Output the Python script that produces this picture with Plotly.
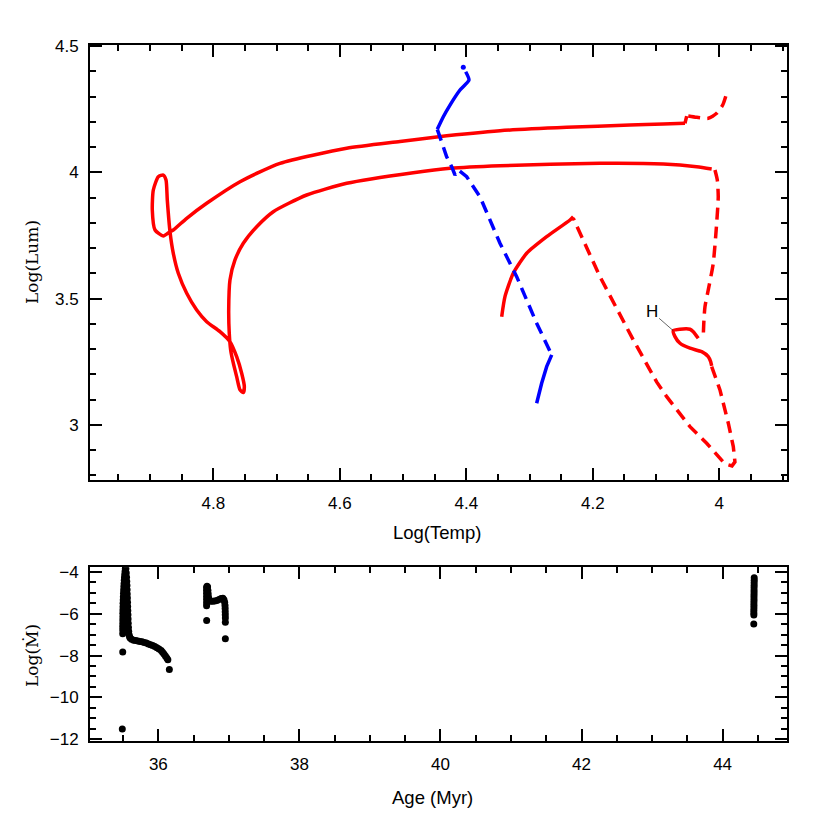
import plotly.graph_objects as go
from plotly.subplots import make_subplots

# ---------------- HR diagram data (Log Temp, Log Lum) ----------------
# main solid red track (upper branch -> alpha loop -> lower loop -> lower branch)
trackA_T = [4.0516, 4.0543, 4.0886, 4.1413, 4.2413, 4.3468, 4.4469, 4.5049, 4.5892,
            4.6946, 4.7578, 4.8105, 4.8421, 4.8633, 4.8685, 4.8791, 4.8922,
            4.8965, 4.8949, 4.8870, 4.8791, 4.8748, 4.8728, 4.8685, 4.8633, 4.8554,
            4.8421, 4.8263, 4.8105, 4.7895, 4.7737, 4.7631, 4.7552, 4.7510, 4.7526,
            4.7578, 4.7631, 4.7684, 4.7726, 4.7748, 4.7757, 4.7737, 4.7658, 4.7526,
            4.7314, 4.7052, 4.6524, 4.5892, 4.4839, 4.4258, 4.3468, 4.1887, 4.0886,
            4.0358, 4.0121]
trackA_L = [4.2228, 4.1939, 4.1911, 4.1872, 4.1781, 4.1646, 4.1400, 4.1220, 4.0950,
            4.0356, 3.9628, 3.8773, 3.8180, 3.7717, 3.7650, 3.7480, 3.7717,
            3.8508, 3.9300, 3.9826, 3.9893, 3.9695, 3.8904, 3.7650, 3.6795, 3.6003,
            3.5212, 3.4551, 3.4088, 3.3693, 3.3297, 3.2703, 3.2046, 3.1516, 3.1279,
            3.1386, 3.1912, 3.2442, 3.2968, 3.3629, 3.4551, 3.5738, 3.6530, 3.7191,
            3.7847, 3.8441, 3.9102, 3.9565, 3.9984, 4.0158, 4.0261, 4.0356, 4.0328,
            4.0222, 4.0131]

# dashed red continuation at the top right
dashA_T = [4.0491, 4.0358, 4.0175, 4.0042, 3.9947, 3.9884]
dashA_L = [4.2228, 4.2176, 4.2137, 4.2335, 4.2663, 4.3126]

# dashed red drop from the lower branch end
dashB_T = [4.0069, 4.0032, 4.0017, 4.0042, 4.0096, 4.0175, 4.0227, 4.0243, 4.0254]
dashB_L = [4.0091, 3.9695, 3.9034, 3.7982, 3.6399, 3.5343, 3.4682, 3.4155, 3.3495]

# solid red "H" segment
hseg_T = [4.0333, 4.0412, 4.0464, 4.0622, 4.0728, 4.0701, 4.0622, 4.0464, 4.0279,
          4.0175, 4.0137, 4.0121]
hseg_L = [3.3431, 3.3693, 3.3788, 3.3788, 3.3732, 3.3495, 3.3233, 3.3036, 3.2901,
          3.2703, 3.2505, 3.2335]

# dashed red loop to the bottom and back up-left
dashC_T = [4.0121, 3.9990, 3.9858, 3.9779, 3.9753, 3.9800, 3.9911, 4.0042, 4.0200,
           4.0464, 4.0622, 4.0832, 4.0991, 4.1254, 4.1360, 4.1887, 4.2309]
dashC_L = [3.2308, 3.1386, 3.0068, 2.9142, 2.8537, 2.8378, 2.8458, 2.8814, 2.9276,
           2.9933, 3.0436, 3.1120, 3.1702, 3.2889, 3.3364, 3.5869, 3.8180]

# solid red short track
trackD_T = [4.2309, 4.2361, 4.2730, 4.3046, 4.3258, 4.3389, 4.3441]
trackD_L = [3.8243, 3.8112, 3.7452, 3.6795, 3.6003, 3.5078, 3.4286]

# blue track
blueTop_T = [4.4010, 4.3958, 4.4100, 4.4258, 4.4364, 4.4459]
blueTop_L = [4.3981, 4.3652, 4.3257, 4.2663, 4.2200, 4.1702]
blueDot_T = [4.4048]
blueDot_L = [4.4155]
blueDash_T = [4.4459, 4.4311, 4.4232, 4.4179, 4.4127, 4.3994, 4.3784, 4.3468, 4.3204,
              4.2888, 4.2650]
blueDash_L = [4.1702, 4.0617, 4.0222, 3.9893, 4.0091, 3.9826, 3.9034, 3.7191, 3.5869,
              3.4025, 3.2771]
blueBot_T = [4.2650, 4.2730, 4.2809, 4.2888]
blueBot_L = [3.2771, 3.2308, 3.1651, 3.0859]

# annotation "H"
h_label_T, h_label_L = 4.107, 3.448
h_point_T, h_point_L = 4.0728, 3.3732

# ---------------- mass-loss rate data ----------------
age_g1 = ([35.489, 35.495] +
          [35.495, 35.495, 35.495, 35.496, 35.496, 35.497, 35.497, 35.498, 35.499, 35.500,
           35.502, 35.504, 35.506, 35.508, 35.511, 35.514, 35.517, 35.520, 35.524, 35.528,
           35.532] +
          [35.540, 35.545, 35.549, 35.552, 35.555, 35.557, 35.559, 35.561, 35.563, 35.565,
           35.567, 35.569, 35.571, 35.573, 35.576, 35.580, 35.585, 35.592, 35.600] +
          [35.62, 35.65, 35.68, 35.71, 35.74, 35.77, 35.80, 35.83, 35.86, 35.89, 35.92,
           35.95, 35.98, 36.01, 36.04, 36.06, 36.08, 36.10, 36.12, 36.135, 36.156])
mdot_g1 = ([-11.51, -7.83] +
           [-6.95, -6.78, -6.62, -6.46, -6.30, -6.14, -5.98, -5.82, -5.66, -5.50,
            -5.34, -5.18, -5.02, -4.86, -4.70, -4.55, -4.40, -4.26, -4.12, -3.98,
            -3.85] +
           [-3.85, -4.05, -4.25, -4.45, -4.65, -4.85, -5.05, -5.25, -5.45, -5.65,
            -5.85, -6.05, -6.25, -6.45, -6.65, -6.85, -7.00, -7.10, -7.16] +
           [-7.22, -7.26, -7.28, -7.30, -7.32, -7.34, -7.37, -7.40, -7.44, -7.48, -7.52,
            -7.57, -7.63, -7.69, -7.76, -7.84, -7.92, -8.02, -8.12, -8.20, -8.66])

age_g2 = [36.685, 36.684, 36.684, 36.684, 36.684, 36.684, 36.684, 36.684, 36.690,
          36.698, 36.703, 36.707, 36.712, 36.720, 36.740, 36.770, 36.800, 36.830,
          36.860, 36.890, 36.915, 36.930, 36.940, 36.945, 36.947, 36.948, 36.949,
          36.950, 36.950, 36.950]
mdot_g2 = [-6.32, -5.62, -5.47, -5.32, -5.17, -5.02, -4.87, -4.74, -4.68,
           -4.72, -4.88, -5.05, -5.22, -5.34, -5.40, -5.40, -5.39, -5.37,
           -5.32, -5.27, -5.26, -5.33, -5.45, -5.60, -5.75, -5.90, -6.05,
           -6.20, -6.40, -7.20]

age_g3 = [44.448, 44.448, 44.447, 44.447, 44.446, 44.446, 44.446, 44.445, 44.445,
          44.445, 44.444, 44.444, 44.444, 44.443, 44.443, 44.443, 44.442]
mdot_g3 = [-4.28, -4.40, -4.52, -4.64, -4.76, -4.88, -5.00, -5.12, -5.24,
           -5.36, -5.48, -5.60, -5.72, -5.84, -5.96, -6.06, -6.49]

RED = "#ff0000"
BLUE = "#0000ff"
LW = 3.5
DASH = "12px,7px"

fig = make_subplots(rows=2, cols=1)

def line(x, y, color, dash="solid", shape="spline"):
    fig.add_trace(go.Scatter(x=x, y=y, mode="lines",
                             line=dict(color=color, width=LW, dash=dash, shape=shape,
                                       smoothing=0.6),
                             showlegend=False, hoverinfo="skip"), row=1, col=1)

line(trackA_T[:2], trackA_L[:2], RED, shape="linear")
line(trackA_T[1:], trackA_L[1:], RED)
line(dashA_T, dashA_L, RED, DASH)
line(dashB_T, dashB_L, RED, DASH)
line(hseg_T, hseg_L, RED)
line(dashC_T, dashC_L, RED, DASH, shape="linear")
line(trackD_T, trackD_L, RED)
line(blueTop_T, blueTop_L, BLUE)
line(blueDash_T, blueDash_L, BLUE, DASH, shape="linear")
line(blueBot_T, blueBot_L, BLUE, shape="linear")
fig.add_trace(go.Scatter(x=blueDot_T, y=blueDot_L, mode="markers",
                         marker=dict(color=BLUE, size=5), showlegend=False,
                         hoverinfo="skip"), row=1, col=1)

for ax, ay in ((age_g1, mdot_g1), (age_g2, mdot_g2), (age_g3, mdot_g3)):
    fig.add_trace(go.Scatter(x=ax, y=ay, mode="markers",
                             marker=dict(color="black", size=7, line=dict(width=0)),
                             showlegend=False, hoverinfo="skip"), row=2, col=1)

TICKFONT = dict(family="Liberation Sans, Arial, sans-serif", size=17, color="black")
axis_common = dict(showline=True, linecolor="black", linewidth=2, mirror="ticks",
                   ticks="inside", ticklen=12, tickwidth=1.5, tickcolor="black",
                   showgrid=False, zeroline=False, tickfont=TICKFONT)

fig.update_xaxes(range=[4.995, 3.893], tick0=4.0, dtick=0.2,
                 minor=dict(ticks="inside", ticklen=6, tickwidth=1.5, tickcolor="black",
                            dtick=0.05, tick0=4.0, showgrid=False),
                 ticklabelstandoff=7, **axis_common, row=1, col=1)
fig.update_yaxes(range=[2.782, 4.504], tick0=3.0, dtick=0.5,
                 minor=dict(ticks="inside", ticklen=6, tickwidth=1.5, tickcolor="black",
                            dtick=0.1, tick0=3.0, showgrid=False),
                 ticklabelstandoff=6, **axis_common, row=1, col=1)
fig.update_xaxes(range=[35.031, 44.913], tick0=36, dtick=2,
                 minor=dict(ticks="inside", ticklen=6, tickwidth=1.5, tickcolor="black",
                            dtick=0.5, tick0=36, showgrid=False),
                 ticklabelstandoff=7, **axis_common, row=2, col=1)
fig.update_yaxes(range=[-12.086, -3.775], tick0=-12, dtick=2,
                 minor=dict(ticks="inside", ticklen=6, tickwidth=1.5, tickcolor="black",
                            dtick=0.5, tick0=-12, showgrid=False),
                 ticklabelstandoff=6, **axis_common, row=2, col=1)

# the page body adds an 8 px offset; margins compensate so the plot box sits at 90..787 x 45..741
fig.update_layout(
    width=830, height=830,
    margin=dict(l=82, r=51, t=37, b=97),
    paper_bgcolor="white", plot_bgcolor="white",
    xaxis=dict(domain=[0, 1]), xaxis2=dict(domain=[0, 1]),
    yaxis=dict(domain=[0.375, 1.0]), yaxis2=dict(domain=[0.0, 0.2496]),
)

SANS = dict(family="Liberation Sans, Arial, sans-serif", size=18.5, color="black")
SERIF = dict(family="DejaVu Serif, serif", size=17, color="black")
annotations = [
    dict(text="Log(Temp)", x=437, y=532, font=SANS, angle=0),
    dict(text="Age (Myr)", x=432, y=797, font=SANS, angle=0),
    dict(text="Log(Lum)", x=32, y=262, font=SERIF, angle=-90),
    dict(text="Log(\u1E40)", x=32, y=656, font=SERIF, angle=-90),
]
for a in annotations:
    fig.add_annotation(text=a["text"], textangle=a["angle"], font=a["font"],
                       showarrow=False, xref="paper", yref="paper",
                       x=(a["x"] - 90) / (787 - 90), y=(741 - a["y"]) / (741 - 45),
                       xanchor="center", yanchor="middle")

fig.add_annotation(x=h_point_T, y=h_point_L, ax=h_label_T, ay=h_label_L,
                   xref="x", yref="y", axref="x", ayref="y", text="H",
                   showarrow=True, arrowhead=0, arrowwidth=0.6, arrowcolor="black",
                   standoff=0, font=dict(family="Liberation Sans, Arial, sans-serif",
                                         size=17, color="black"))

fig.write_html("out.html")
